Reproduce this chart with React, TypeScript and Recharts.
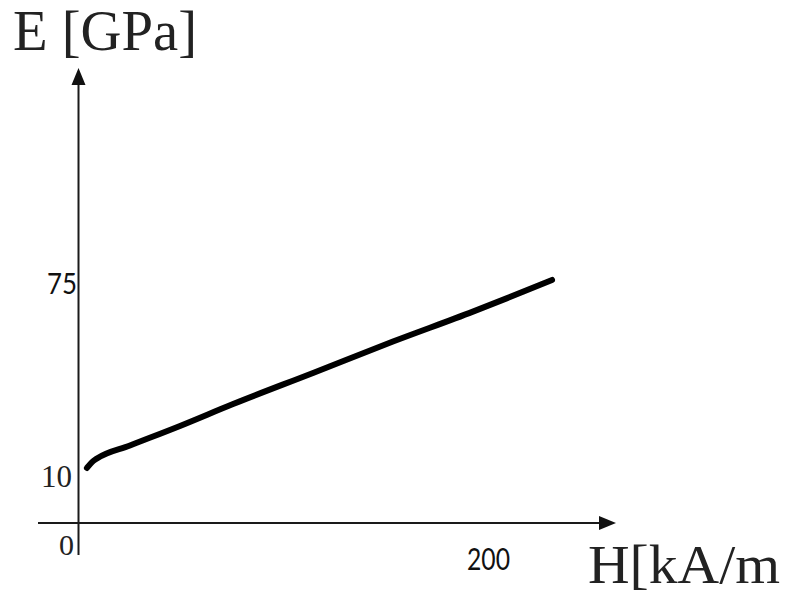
import { LineChart, Line, XAxis, YAxis, ReferenceLine } from 'recharts';

// field strength H [kA/m] and modulus E [GPa]
const hValues = [4.1, 6.6, 9.0, 25.1, 49.5, 75.4, 114.4, 153.4, 192.4, 208.5, 231.0];
const eValues = [12.7, 14.7, 15.9, 20.3, 26.9, 34.3, 44.8, 55.4, 65.5, 69.9, 76.2];

const xTicks = [0, 200];
const yTicks = [10, 75];

// axis extents (the drawn arrows run a bit past the data)
const X_MIN = -19.76;
const X_MAX = 262.2;
const Y_MIN = -16.68;
const Y_MAX = 147.77;
const X_AXIS_AT = -5.87;

const data = hValues.map((h, i) => ({ H: h, E: eValues[i] }));

const ArrowLine = (p: any) => {
  const { x1, y1, x2, y2 } = p;
  const dx = x2 - x1;
  const dy = y2 - y1;
  const len = Math.hypot(dx, dy) || 1;
  const ux = dx / len;
  const uy = dy / len;
  const L = 17;
  const W = 7;
  const bx = x2 - ux * L;
  const by = y2 - uy * L;
  const pts = `${x2},${y2} ${bx - uy * W},${by + ux * W} ${bx + uy * W},${by - ux * W}`;
  return (
    <g>
      <line x1={x1} y1={y1} x2={bx} y2={by} stroke="#1a1a1a" strokeWidth={2} />
      <polygon points={pts} fill="#111" />
    </g>
  );
};

const XTick = (props: any) => {
  const { x, y, payload } = props;
  if (payload.value === 0) {
    return (
      <text x={x - 12} y={y} textAnchor="middle" fontFamily="Liberation Serif, serif" fontSize={30} fill="#222">
        0
      </text>
    );
  }
  return (
    <text x={x} y={y + 15} textAnchor="middle" fontFamily="Lato, Liberation Sans, sans-serif"
      fontSize={31} fill="#111" textLength={43} lengthAdjust="spacingAndGlyphs">
      {payload.value}
    </text>
  );
};

const YTick = (props: any) => {
  const { x, y, payload } = props;
  if (payload.value === 10) {
    return (
      <text x={x + 34} y={y + 11} textAnchor="end" fontFamily="Liberation Serif, serif" fontSize={31} fill="#222">
        10
      </text>
    );
  }
  return (
    <text x={x + 39} y={y + 10.5} textAnchor="end" fontFamily="Lato, Liberation Sans, sans-serif"
      fontSize={29} fill="#111" textLength={30} lengthAdjust="spacingAndGlyphs">
      {payload.value}
    </text>
  );
};

export default function App() {
  return (
    <div style={{ position: 'absolute', left: 0, top: 0, width: 785, height: 595, background: '#fff' }}>
      <LineChart
        width={785}
        height={595}
        data={data}
        margin={{ top: 68, right: 169, left: 0, bottom: 0 }}
      >
        <XAxis
          type="number"
          dataKey="H"
          domain={[X_MIN, X_MAX]}
          allowDataOverflow
          ticks={xTicks}
          interval={0}
          height={40}
          tickSize={0}
          tickMargin={0}
          axisLine={false}
          tickLine={false}
          tick={XTick}
        />
        <YAxis
          type="number"
          dataKey="E"
          domain={[Y_MIN, Y_MAX]}
          allowDataOverflow
          ticks={yTicks}
          interval={0}
          width={38}
          tickSize={0}
          tickMargin={0}
          axisLine={false}
          tickLine={false}
          tick={YTick}
        />
        <ReferenceLine
          segment={[{ x: X_MIN, y: X_AXIS_AT }, { x: X_MAX, y: X_AXIS_AT }]}
          ifOverflow="visible"
          shape={ArrowLine}
        />
        <ReferenceLine
          segment={[{ x: 0, y: Y_MIN }, { x: 0, y: Y_MAX }]}
          ifOverflow="visible"
          shape={ArrowLine}
        />
        <Line
          type="monotone"
          dataKey="E"
          stroke="#000"
          strokeWidth={6}
          strokeLinecap="round"
          strokeLinejoin="round"
          dot={false}
          isAnimationActive={false}
        />
      </LineChart>
      <svg width={785} height={595} style={{ position: 'absolute', left: 0, top: 0, pointerEvents: 'none' }}>
        <text x={13} y={50} fontFamily="Liberation Serif, serif" fontSize={56} fill="#222"
          textLength={184} lengthAdjust="spacingAndGlyphs">
          E [GPa]
        </text>
        <text x={588} y={583} fontFamily="Liberation Serif, serif" fontSize={54} fill="#222"
          textLength={192} lengthAdjust="spacingAndGlyphs">
          H[kA/m
        </text>
      </svg>
    </div>
  );
}
